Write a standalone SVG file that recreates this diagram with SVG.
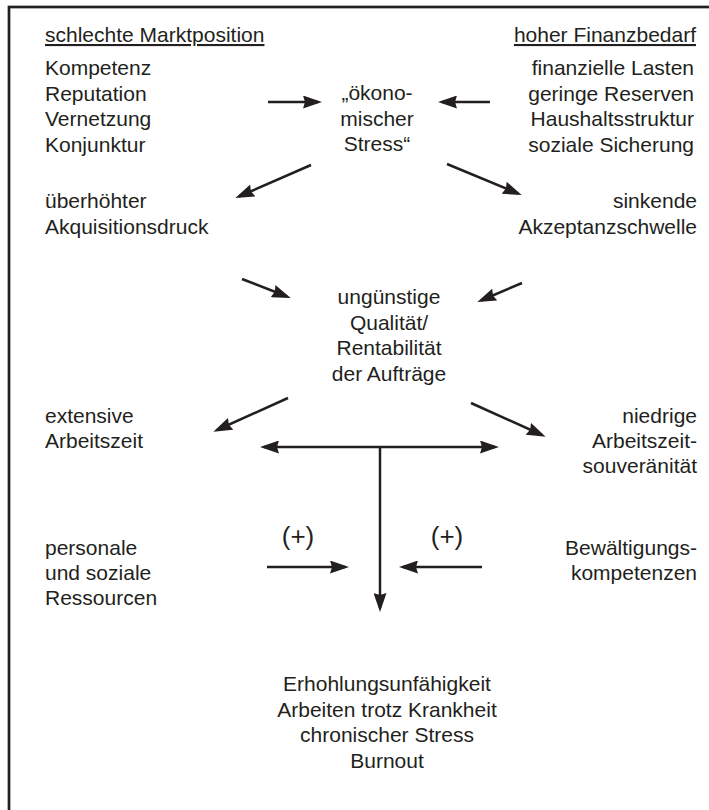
<svg xmlns="http://www.w3.org/2000/svg" width="709" height="810" viewBox="0 0 709 810">
<style>
text{font-family:"Liberation Sans",Arial,sans-serif;font-size:21px;fill:#231f20}
.l{text-anchor:start}.r{text-anchor:end}.c{text-anchor:middle}
.u{text-decoration:underline}
.p{font-size:26px}
.a{stroke:#231f20;stroke-width:2.5;fill:none;marker-end:url(#ah)}
.d{stroke:#231f20;stroke-width:2.5;fill:none;marker-end:url(#ah);marker-start:url(#ah)}
</style>
<defs>
<marker id="ah" markerUnits="userSpaceOnUse" markerWidth="19" markerHeight="13" viewBox="0 0 19 13" refX="15" refY="6.5" orient="auto-start-reverse">
<path d="M0,0 L19,6.5 L0,13 L2,6.5 z" fill="#231f20"/>
</marker>
</defs>
<rect x="9" y="7" width="720" height="820" fill="#ffffff" stroke="#231f20" stroke-width="2.7"/>
<g id="markt">
<text class="l u" x="45" y="42">schlechte Marktposition</text>
<text class="l" x="45" y="75">Kompetenz</text>
<text class="l" x="45" y="100.5">Reputation</text>
<text class="l" x="45" y="126">Vernetzung</text>
<text class="l" x="45" y="151.5">Konjunktur</text>
</g>
<g id="finanz">
<text class="r u" x="696" y="42">hoher Finanzbedarf</text>
<text class="r" x="694" y="75">finanzielle Lasten</text>
<text class="r" x="694" y="100.5">geringe Reserven</text>
<text class="r" x="694" y="126">Haushaltsstruktur</text>
<text class="r" x="694" y="151.5">soziale Sicherung</text>
</g>
<g id="stress">
<text class="c" x="377" y="100">„ökono-</text>
<text class="c" x="377" y="125.5">mischer</text>
<text class="c" x="377" y="151">Stress“</text>
</g>
<g id="akquise">
<text class="l" x="45" y="208">überhöhter</text>
<text class="l" x="45" y="234">Akquisitionsdruck</text>
</g>
<g id="akzeptanz">
<text class="r" x="697" y="208">sinkende</text>
<text class="r" x="697" y="234">Akzeptanzschwelle</text>
</g>
<g id="qualitaet">
<text class="c" x="389" y="304">ungünstige</text>
<text class="c" x="389" y="329.5">Qualität/</text>
<text class="c" x="389" y="355">Rentabilität</text>
<text class="c" x="389" y="381">der Aufträge</text>
</g>
<g id="arbeitszeit">
<text class="l" x="45" y="423">extensive</text>
<text class="l" x="45" y="448">Arbeitszeit</text>
</g>
<g id="souveraenitaet">
<text class="r" x="697" y="423">niedrige</text>
<text class="r" x="697" y="448">Arbeitszeit-</text>
<text class="r" x="697" y="473">souveränität</text>
</g>
<g id="ressourcen">
<text class="l" x="45" y="555">personale</text>
<text class="l" x="45" y="580">und soziale</text>
<text class="l" x="45" y="605">Ressourcen</text>
</g>
<g id="bewaeltigung">
<text class="r" x="697" y="555">Bewältigungs-</text>
<text class="r" x="697" y="580">kompetenzen</text>
</g>
<g id="plus">
<text class="c p" x="298" y="545">(+)</text>
<text class="c p" x="447" y="545">(+)</text>
</g>
<g id="folgen">
<text class="c" x="387" y="691">Erhohlungsunfähigkeit</text>
<text class="c" x="387" y="716.5">Arbeiten trotz Krankheit</text>
<text class="c" x="387" y="742">chronischer Stress</text>
<text class="c" x="387" y="767.5">Burnout</text>
</g>
<g id="connectors">
<line class="a" x1="268" y1="102" x2="318" y2="102"/>
<line class="a" x1="490" y1="102" x2="442" y2="102"/>
<line class="a" x1="311" y1="165" x2="239" y2="196.5"/>
<line class="a" x1="447" y1="164" x2="518" y2="193.5"/>
<line class="a" x1="242" y1="279" x2="287" y2="296.5"/>
<line class="a" x1="522" y1="283" x2="481" y2="300.5"/>
<line class="a" x1="288" y1="398" x2="217" y2="430"/>
<line class="a" x1="471" y1="403" x2="542" y2="435"/>
<line class="d" x1="264" y1="447" x2="495" y2="447"/>
<line x1="380" y1="447" x2="380" y2="608" stroke="#231f20" stroke-width="2.5" marker-end="url(#ah)"/>
<line class="a" x1="267" y1="567" x2="345" y2="567"/>
<line class="a" x1="482" y1="567" x2="403" y2="567"/>
</g>
</svg>
